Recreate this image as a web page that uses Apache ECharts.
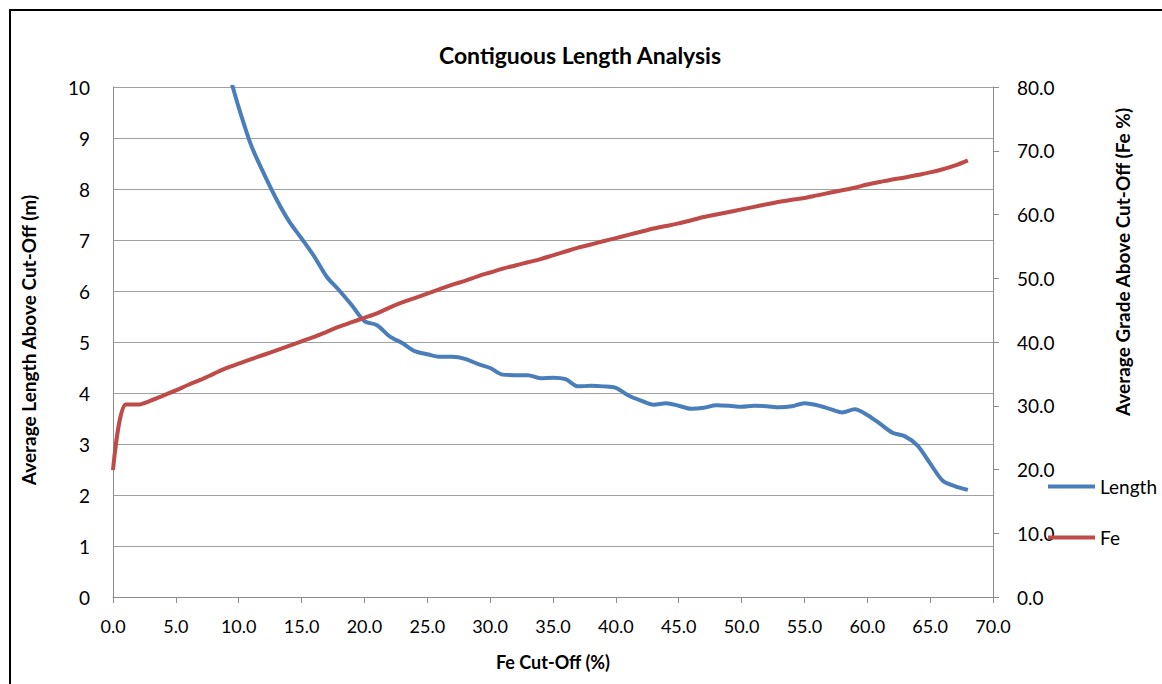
<!DOCTYPE html>
<html>
<head>
<meta charset="utf-8">
<script src="https://cdn.jsdelivr.net/npm/echarts@6/dist/echarts.min.js"></script>
<style>
html,body{margin:0;padding:0;background:#fff;}
#c{width:1162px;height:684px;}
</style>
</head>
<body>
<div id="c"></div>
<script>
const cutoff = [0,1,2,3,4,5,6,7,8,9,10,11,12,13,14,15,16,17,18,19,20,21,22,23,24,25,26,27,28,29,30,31,32,33,34,35,36,37,38,39,40,41,42,43,44,45,46,47,48,49,50,51,52,53,54,55,56,57,58,59,60,61,62,63,64,65,66,67,68];
const lengthVals = [30,25,21,18,15.8,14.2,13,12,11.2,10.45,9.6,8.85,8.3,7.8,7.37,7.03,6.68,6.28,6.01,5.72,5.41,5.33,5.11,4.98,4.82,4.76,4.71,4.71,4.67,4.57,4.49,4.36,4.35,4.35,4.29,4.30,4.27,4.13,4.14,4.13,4.10,3.95,3.85,3.77,3.80,3.75,3.69,3.71,3.76,3.75,3.73,3.75,3.74,3.72,3.74,3.80,3.76,3.69,3.62,3.68,3.57,3.40,3.22,3.15,2.97,2.62,2.28,2.17,2.10];
const feVals = [19.9,30.2,30.2,30.8,31.6,32.4,33.3,34.1,35.0,35.9,36.6,37.3,38.0,38.7,39.4,40.1,40.8,41.6,42.4,43.1,43.8,44.5,45.4,46.2,46.9,47.6,48.3,49.0,49.6,50.3,50.9,51.5,52.0,52.5,53.0,53.6,54.2,54.8,55.3,55.8,56.3,56.8,57.3,57.8,58.2,58.6,59.1,59.6,60.0,60.4,60.8,61.2,61.6,62.0,62.3,62.6,63.0,63.4,63.8,64.2,64.7,65.1,65.5,65.8,66.2,66.6,67.1,67.7,68.5];
const seriesNames = ['Length','Fe'];
const chartTitle = 'Contiguous Length Analysis';
const xTitle = 'Fe Cut-Off (%)';
const yLeftTitle = 'Average Length Above Cut-Off (m)';
const yRightTitle = 'Average Grade Above Cut-Off (Fe %)';

const FONT = 'Lato, "Open Sans", sans-serif';
const GRID = '#a0a0a0';
const AXIS = '#8c8c8c';

const chart = echarts.init(document.getElementById('c'), null, {renderer: 'svg'});
chart.setOption({
  animation: false,
  backgroundColor: '#fff',
  title: {
    text: chartTitle, left: 575, textAlign: 'center', top: 38,
    textStyle: {fontFamily: FONT, fontSize: 23, fontWeight: 'bold', color: '#000'}
  },
  legend: {
    orient: 'vertical', left: 1043, top: 472, itemGap: 32,
    itemWidth: 47, itemHeight: 4, icon: 'rect',
    textStyle: {fontFamily: FONT, fontSize: 19, color: '#000'},
    data: seriesNames
  },
  grid: {left: 113, right: 169, top: 87, bottom: 87, containLabel: false},
  xAxis: {
    type: 'value', min: 0, max: 70, interval: 5,
    name: xTitle, nameLocation: 'middle', nameGap: 56,
    nameTextStyle: {fontFamily: FONT, fontSize: 18, fontWeight: 'bold', color: '#000'},
    axisLine: {show: true, lineStyle: {color: AXIS, width: 1}},
    axisTick: {show: true, length: 6, lineStyle: {color: AXIS}},
    axisLabel: {margin: 20, fontFamily: FONT, fontSize: 18, color: '#000', formatter: v => v.toFixed(1)},
    splitLine: {show: false}
  },
  yAxis: [
    {
      type: 'value', min: 0, max: 10, interval: 1,
      axisLine: {show: true, lineStyle: {color: AXIS, width: 1}},
      axisTick: {show: false},
      axisLabel: {margin: 23, fontFamily: FONT, fontSize: 19, color: '#000'},
      splitLine: {show: true, lineStyle: {color: GRID, width: 1}}
    },
    {
      type: 'value', min: 0, max: 80, interval: 10, position: 'right',
      axisLine: {show: true, lineStyle: {color: AXIS, width: 1}},
      axisTick: {show: true, length: 6, lineStyle: {color: AXIS}},
      axisLabel: {margin: 24, fontFamily: FONT, fontSize: 19, color: '#000', formatter: v => v.toFixed(1)},
      splitLine: {show: false}
    }
  ],
  graphic: [
    {type: 'rect', shape: {x: 10, y: 10, width: 1300, height: 800}, style: {fill: 'none', stroke: '#000', lineWidth: 2}, silent: true},
    {type: 'text', x: 28, y: 340, rotation: Math.PI / 2,
     style: {text: yLeftTitle, fontFamily: FONT, fontSize: 19, fontWeight: 'bold', fill: '#000', align: 'center', verticalAlign: 'middle'}},
    {type: 'text', x: 1122, y: 262, rotation: Math.PI / 2,
     style: {text: yRightTitle, fontFamily: FONT, fontSize: 19, fontWeight: 'bold', fill: '#000', align: 'center', verticalAlign: 'middle'}}
  ],
  series: [
    {
      name: seriesNames[0], type: 'line', yAxisIndex: 0, smooth: 0.3, clip: true,
      showSymbol: false, symbol: 'none',
      lineStyle: {color: '#4a7ebb', width: 4}, itemStyle: {color: '#4a7ebb'},
      data: cutoff.map((x, i) => [x, lengthVals[i]])
    },
    {
      name: seriesNames[1], type: 'line', yAxisIndex: 1, smooth: 0.3, clip: true,
      showSymbol: false, symbol: 'none',
      lineStyle: {color: '#be4b48', width: 4}, itemStyle: {color: '#be4b48'},
      data: cutoff.map((x, i) => [x, feVals[i]])
    }
  ]
});
</script>
</body>
</html>
